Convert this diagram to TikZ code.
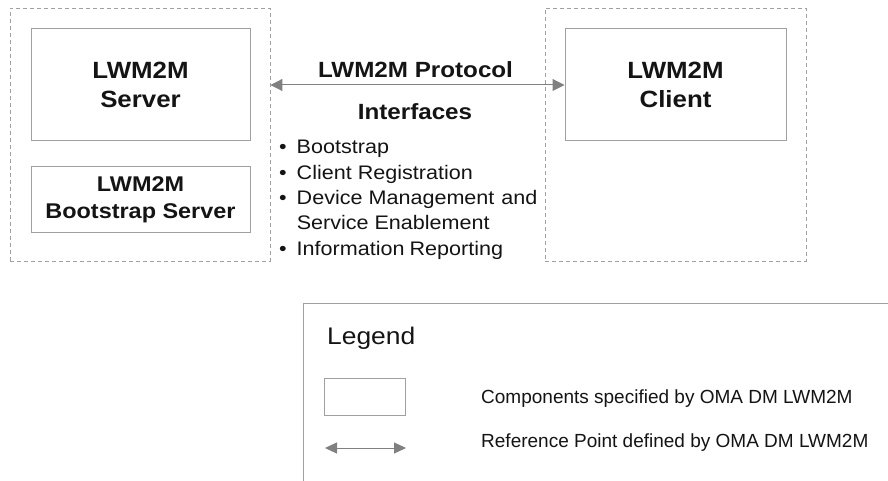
\documentclass[tikz,border=0pt]{standalone}
\usepackage{fontspec}
\setmainfont{Liberation Sans}[FakeStretch=1.1]
\newfontfamily\legendfont{Liberation Sans}
\usepackage{tikz}
\usetikzlibrary{arrows.meta}

\definecolor{boxgray}{RGB}{160,160,160}
\definecolor{arrowgray}{RGB}{128,128,128}
\definecolor{textblack}{RGB}{20,20,20}

\begin{document}
\begin{tikzpicture}[x=1pt, y=-1pt,
		domainbox/.style={draw=boxgray, dash pattern=on 4pt off 3pt, line width=0.9pt},
		component/.style={draw=boxgray, line width=1pt, align=center, text=textblack, inner sep=0pt, font=\bfseries\fontsize{23.5}{29}\selectfont},
		refpoint/.style={draw=arrowgray, line width=1pt, {Triangle[length=12pt,width=12pt]}-{Triangle[length=12pt,width=12pt]}},
		plaintext/.style={text=textblack, inner sep=0pt}]
		\useasboundingbox (0,0) rectangle (888,481);

		\node[domainbox, minimum width=260pt, minimum height=253pt] (serverside) at (140,134.5) {};
		\node[domainbox, minimum width=261pt, minimum height=253pt] (clientside) at (675.5,134.5) {};

		\node[component, minimum width=219pt, minimum height=112pt] (server) at (140.5,85) {LWM2M\\Server};
		\node[component, minimum width=219pt, minimum height=65pt, font=\bfseries\fontsize{21.3}{27}\selectfont] (bootstrap) at (140.5,199.5) {LWM2M\\Bootstrap Server};
		\node[component, minimum width=221pt, minimum height=112pt] (client) at (675.5,85) {LWM2M\\Client};

		\path[refpoint] (serverside.east |- client.west) -- (client.west);

		\node[plaintext, font=\bfseries\fontsize{22}{26}\selectfont] (protocol) at (415.5,70) {LWM2M Protocol};
		\node[plaintext, font=\bfseries\fontsize{22}{26}\selectfont] (interfaces) at (415,112) {Interfaces};
		\node[plaintext, anchor=north west, font=\fontsize{19.6}{25.3}\selectfont] (features) at (279,136) {%
			\begin{tabular}{@{}l@{\hspace{10pt}}l@{}}
				\textbullet & Bootstrap\\
				\textbullet & Client Registration\\
				\textbullet & Device Management\hspace{7pt}and\\
				& Service Enablement\\
				\textbullet & Information\hspace{5pt}Reporting
			\end{tabular}};

		\draw[boxgray, line width=1pt] (888,303) -- (303,303) -- (303,481);
		\node[plaintext, anchor=west, font=\fontsize{24}{28}\selectfont] (legend) at (327,338) {Legend};
		\node[draw=boxgray, line width=1pt, minimum width=81pt, minimum height=37pt, inner sep=0pt] (sample) at (364.5,397) {};
		\coordinate (sampleleft) at (325,448);
		\coordinate (sampleright) at (406,448);
		\path[refpoint, {Triangle[length=12pt,width=11pt]}-{Triangle[length=12pt,width=11pt]}] (sampleleft) -- (sampleright);
		\node[plaintext, anchor=west, font=\legendfont\fontsize{19}{22}\selectfont] (componentsnote) at (481,398.5) {Components specified by OMA DM LWM2M};
		\node[plaintext, anchor=west, font=\legendfont\fontsize{19}{22}\selectfont] (refnote) at (481,443) {Reference Point defined by OMA DM LWM2M};
\end{tikzpicture}
\end{document}
